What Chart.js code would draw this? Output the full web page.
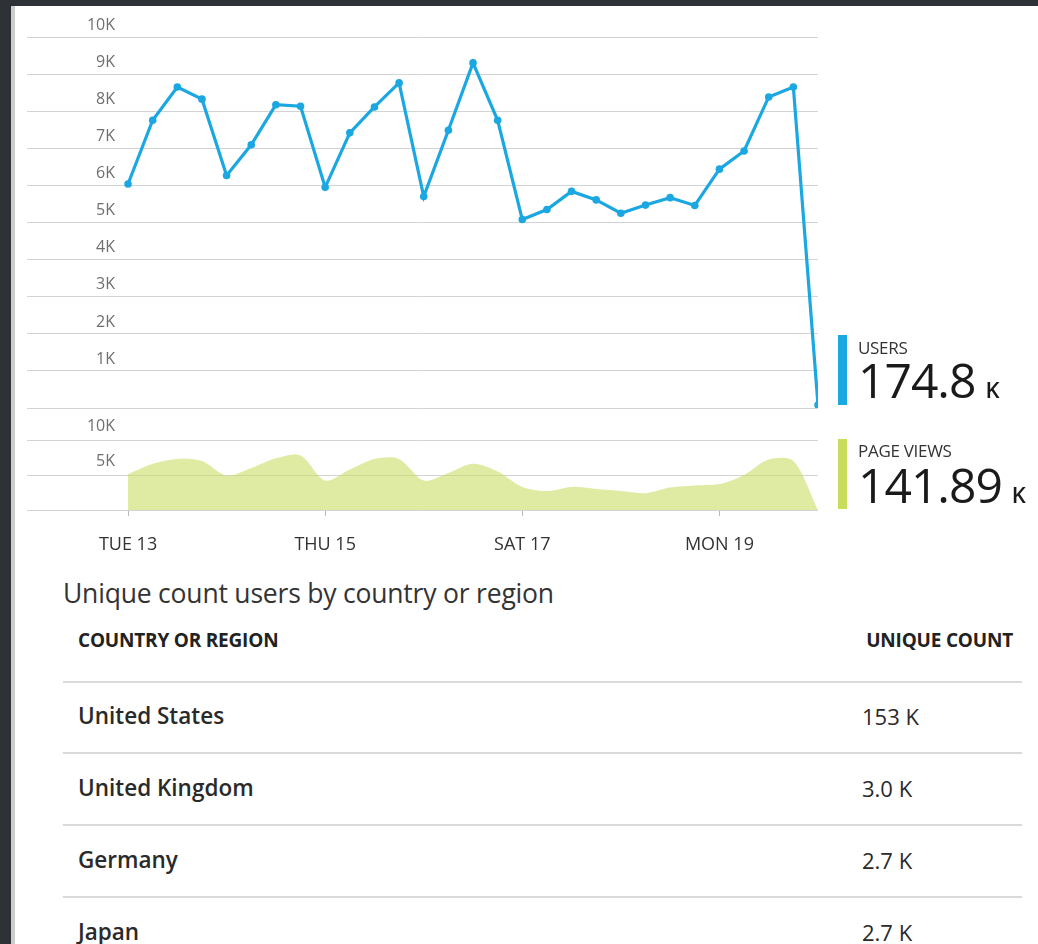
<!DOCTYPE html>
<html>
<head>
<meta charset="utf-8">
<script src="https://cdn.jsdelivr.net/npm/chart.js@4.4.1/dist/chart.umd.min.js"></script>
<style>
html,body{margin:0;padding:0;background:#fff;width:1038px;height:944px;overflow:hidden;font-family:'Open Sans',sans-serif;}
#topbar{position:absolute;left:0;top:0;width:1038px;height:6px;background:#2e3136;}
#leftbar{position:absolute;left:0;top:0;width:11px;height:944px;background:#2e3136;}
#leftline{position:absolute;left:11px;top:6px;width:4px;height:938px;background:#cdcdcd;}
#c1wrap{position:absolute;left:0;top:0;width:840px;height:415px;}
#c2wrap{position:absolute;left:0;top:415px;width:840px;height:160px;}
.bar{position:absolute;width:9px;height:70px;}
.lg{position:absolute;left:858px;line-height:1;white-space:nowrap;}
.lgname{font-size:17px;color:#333;letter-spacing:-0.3px;}
.lgval{font-size:48px;color:#1a1a1a;letter-spacing:-1px;}
.lgval span{font-size:22px;font-weight:600;margin-left:10px;letter-spacing:0;}
#title{position:absolute;left:63px;top:580px;font-size:26.5px;line-height:1;color:#333;white-space:nowrap;letter-spacing:-0.2px;}
.hdr{position:absolute;top:631px;font-size:19px;font-weight:700;line-height:1;color:#222;white-space:nowrap;letter-spacing:-0.2px;}
.sep{position:absolute;left:63px;width:959px;height:2px;background:#dadada;}
.cname{position:absolute;left:78px;font-size:22.5px;font-weight:600;line-height:1;color:#2a2a2a;white-space:nowrap;}
.cval{position:absolute;left:862px;font-size:22px;line-height:1;color:#2a2a2a;white-space:nowrap;}
</style>
</head>
<body>
<div id="topbar"></div>
<div id="leftbar"></div>
<div id="leftline"></div>
<div id="c1wrap"><canvas id="c1"></canvas></div>
<div id="c2wrap"><canvas id="c2"></canvas></div>

<div class="bar" style="left:838px;top:335px;background:#1ba7e1;"></div>
<div class="lg lgname" style="top:339px;" id="usersName"></div>
<div class="lg lgval" style="top:356px;" id="usersVal"></div>
<div class="bar" style="left:838px;top:439px;background:#c9dc5c;"></div>
<div class="lg lgname" style="top:442px;" id="pvName"></div>
<div class="lg lgval" style="top:461px;" id="pvVal"></div>

<div id="title"></div>
<div id="table"></div>

<script>
// ---- data ----
const timeLabels = [
  'Tue 13 00:00','Tue 13 06:00','Tue 13 12:00','Tue 13 18:00',
  'Wed 14 00:00','Wed 14 06:00','Wed 14 12:00','Wed 14 18:00',
  'Thu 15 00:00','Thu 15 06:00','Thu 15 12:00','Thu 15 18:00',
  'Fri 16 00:00','Fri 16 06:00','Fri 16 12:00','Fri 16 18:00',
  'Sat 17 00:00','Sat 17 06:00','Sat 17 12:00','Sat 17 18:00',
  'Sun 18 00:00','Sun 18 06:00','Sun 18 12:00','Sun 18 18:00',
  'Mon 19 00:00','Mon 19 06:00','Mon 19 12:00','Mon 19 18:00',
  'Tue 20 00:00'
];
const usersValues = [6050,7770,8670,8340,6280,7110,8190,8150,5960,7430,8130,8780,5710,7500,9320,7770,5090,5360,5850,5620,5260,5480,5680,5470,6450,6940,8400,8670,80];
const pageViewValues = [5100,6600,7300,7000,4900,6000,7400,7800,4200,5800,7300,7300,4200,5300,6600,5500,3300,2700,3300,3000,2700,2400,3200,3500,3700,5000,7200,7000,0];
const dayTickIndex = [0,8,16,24];
const dayTickLabels = ['TUE 13','THU 15','SAT 17','MON 19'];
const usersYTicks = [0,1000,2000,3000,4000,5000,6000,7000,8000,9000,10000];
const pageViewYTicks = [0,5000,10000];

const legendNames = ['USERS','PAGE VIEWS'];
const legendTotals = ['174.8','141.89'];
const legendUnit = 'K';

const tableTitle = 'Unique count users by country or region';
const tableHeaders = ['COUNTRY OR REGION','UNIQUE COUNT'];
const countries = ['United States','United Kingdom','Germany','Japan'];
const uniqueCounts = ['153 K','3.0 K','2.7 K','2.7 K'];

// ---- legend & table text ----
document.getElementById('usersName').textContent = legendNames[0];
document.getElementById('pvName').textContent = legendNames[1];
document.getElementById('usersVal').innerHTML = legendTotals[0] + '<span>' + legendUnit + '</span>';
document.getElementById('pvVal').innerHTML = legendTotals[1] + '<span>' + legendUnit + '</span>';
document.getElementById('title').textContent = tableTitle;
(function(){
  const t = document.getElementById('table');
  const h1 = document.createElement('div'); h1.className='hdr'; h1.style.left='78px'; h1.textContent=tableHeaders[0]; t.appendChild(h1);
  const h2 = document.createElement('div'); h2.className='hdr'; h2.style.right='25px'; h2.textContent=tableHeaders[1]; t.appendChild(h2);
  const sepTops = [681,752,824,896];
  countries.forEach((c,i)=>{
    const s = document.createElement('div'); s.className='sep'; s.style.top = sepTops[i]+'px'; t.appendChild(s);
    const n = document.createElement('div'); n.className='cname'; n.style.top=(705+72*i)+'px'; n.textContent=c; t.appendChild(n);
    const v = document.createElement('div'); v.className='cval'; v.style.top=(705+72*i)+'px'; v.textContent=uniqueCounts[i]; t.appendChild(v);
  });
})();

// ---- charts ----
const FONT = 'Open Sans';
const Y_FONT_SIZE = 16;
const mctx = document.createElement('canvas').getContext('2d');
mctx.font = Y_FONT_SIZE + 'px ' + FONT;
const widest = mctx.measureText('10K').width;
const LABEL_RIGHT = 115, AREA_LEFT = 27;
const yPad = LABEL_RIGHT - AREA_LEFT - widest;

const X_MIN = -4.1, X_MAX = 28;
const kLabel = v => v === 0 ? '' : (v / 1000) + 'K';
const zeroFit = s => { s.width = 0; s.paddingTop = 0; s.paddingBottom = 0; };

function yAxis(ticksArr, offset) {
  return {
    min: 0, max: 10000,
    afterBuildTicks: s => { s.ticks = ticksArr.map(v => ({value: v})); },
    ticks: {
      mirror: true, crossAlign: 'far', padding: yPad, labelOffset: offset,
      color: '#6f6f6f', font: {family: FONT, size: Y_FONT_SIZE},
      callback: kLabel
    },
    grid: {color: '#d3d3d3', lineWidth: 1, drawTicks: false},
    border: {display: false},
    afterFit: zeroFit
  };
}

new Chart(document.getElementById('c1'), {
  type: 'line',
  data: {
    labels: timeLabels,
    datasets: [{
      label: legendNames[0],
      data: usersValues.map((v, i) => ({x: i, y: v})),
      borderColor: '#1ba7e1', backgroundColor: '#1ba7e1',
      borderWidth: 3.2, pointRadius: 3.8, pointBorderWidth: 0,
      tension: 0, fill: false
    }]
  },
  options: {
    responsive: true, maintainAspectRatio: false, animation: false,
    layout: {padding: {left: AREA_LEFT, right: 22, top: 37.7, bottom: 7}},
    plugins: {legend: {display: false}, tooltip: {enabled: false}},
    scales: {
      x: {type: 'linear', display: false, min: X_MIN, max: X_MAX},
      y: yAxis(usersYTicks, -12)
    }
  }
});

new Chart(document.getElementById('c2'), {
  type: 'line',
  data: {
    labels: timeLabels,
    datasets: [{
      label: legendNames[1],
      data: pageViewValues.map((v, i) => ({x: i, y: v})),
      borderWidth: 0, pointRadius: 0,
      backgroundColor: 'rgba(202,222,100,0.6)',
      borderColor: 'rgba(202,222,100,0.6)',
      tension: 0.3, fill: 'origin'
    }]
  },
  options: {
    responsive: true, maintainAspectRatio: false, animation: false,
    layout: {padding: {left: AREA_LEFT, right: 22, top: 25, bottom: 0}},
    plugins: {legend: {display: false}, tooltip: {enabled: false}},
    scales: {
      x: {
        type: 'linear', min: X_MIN, max: X_MAX,
        afterBuildTicks: s => { s.ticks = dayTickIndex.map(v => ({value: v})); },
        afterFit: s => { s.height = 65; s.paddingLeft = 0; s.paddingRight = 0; },
        ticks: {
          autoSkip: false, maxRotation: 0, padding: 18,
          color: '#333', font: {family: FONT, size: 18},
          callback: v => { const k = dayTickIndex.indexOf(v); return k >= 0 ? dayTickLabels[k] : ''; }
        },
        grid: {drawOnChartArea: false, drawTicks: true, tickLength: 6, color: '#b8b8b8'},
        border: {display: false}
      },
      y: yAxis(pageViewYTicks, -13.5)
    }
  }
});
</script>
</body>
</html>
